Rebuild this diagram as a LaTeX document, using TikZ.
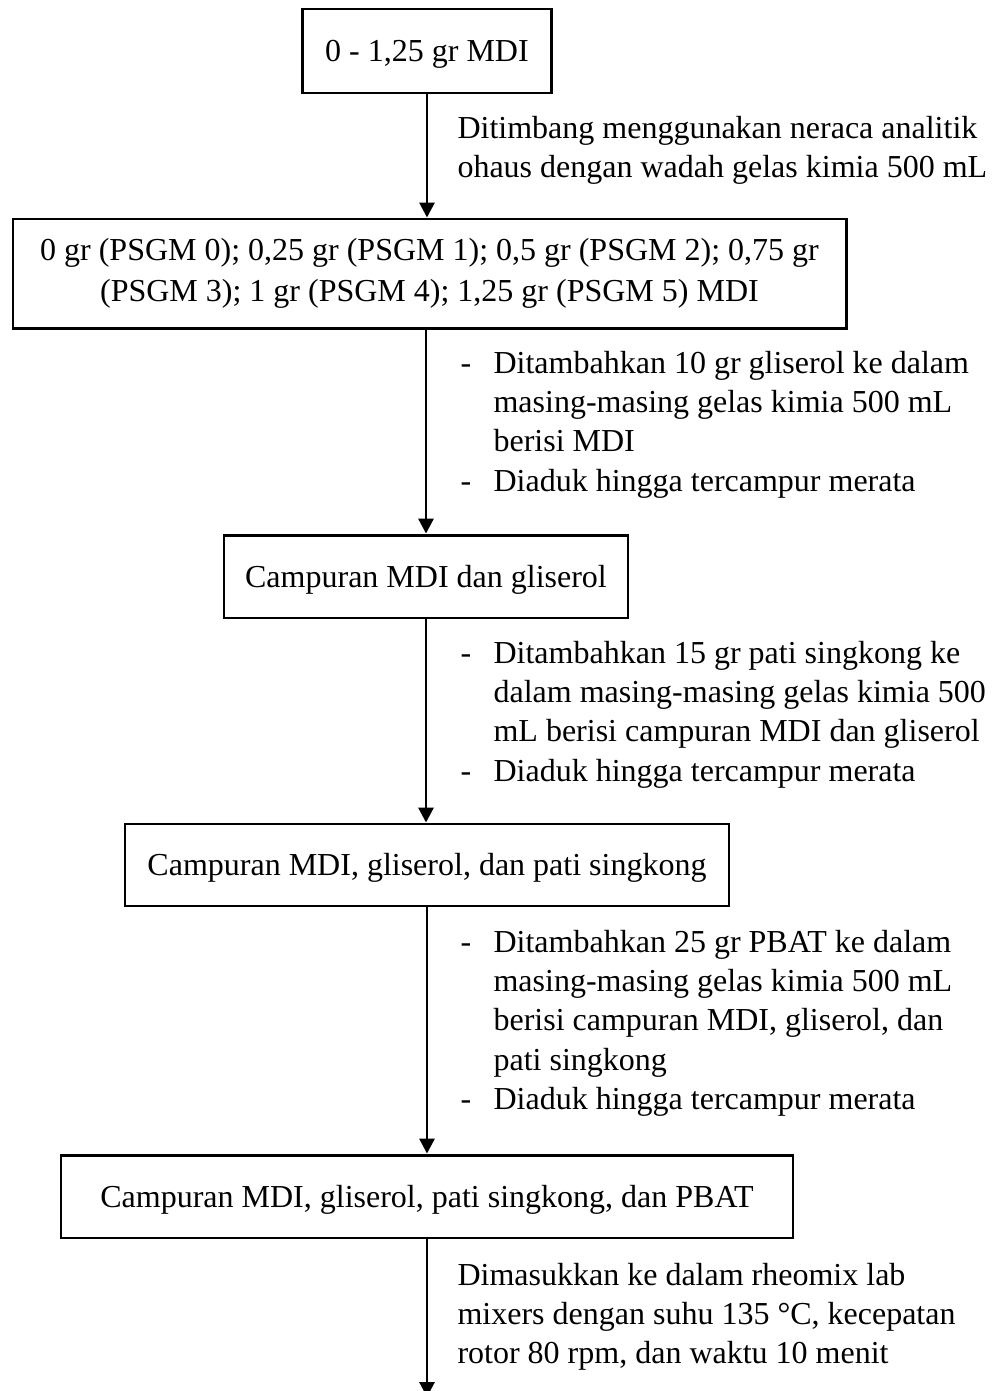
\documentclass[tikz,border=0pt]{standalone}
\usepackage{fontspec}
\setmainfont{Liberation Serif}
\usetikzlibrary{arrows.meta}
\begin{document}
\begin{tikzpicture}[x=0.375pt, y=-0.375pt, box/.style={draw, line width=1.1pt, inner sep=0pt, align=center}, oneline/.style={text height=8.2pt, text depth=0pt}, arr/.style={-{Triangle[length=5.6pt, width=5.6pt]}, line width=1.1pt}, note/.style={inner sep=0pt, anchor=base west}, every node/.style={font=\fontsize{12}{14.8}\selectfont}]
\useasboundingbox (0,0) rectangle (995,1391);
\node[box, oneline, minimum width=93.4pt, minimum height=31.5pt] (mdi) at (427,51) {0 - 1,25 gr MDI};
\node[box, minimum width=312.4pt, minimum height=40.9pt, font=\fontsize{12}{15.4}\selectfont] (psgm) at (429.5,273.5) {0 gr (PSGM 0); 0,25 gr (PSGM 1); 0,5 gr (PSGM 2); 0,75 gr\\(PSGM 3); 1 gr (PSGM 4); 1,25 gr (PSGM 5) MDI};
\node[box, oneline, minimum width=151.5pt, minimum height=31.1pt] (gli) at (426,576.5) {Campuran MDI dan gliserol};
\node[box, oneline, minimum width=226.5pt, minimum height=30.75pt] (pati) at (427,865) {Campuran MDI, gliserol, dan pati singkong};
\node[box, oneline, minimum width=274.5pt, minimum height=31.1pt] (pbat) at (427,1196.5) {Campuran MDI, gliserol, pati singkong, dan PBAT};
\coordinate (out) at (427,1397);
% arrows down the chain
\draw[arr] (mdi.south) -- (mdi.south |- psgm.north);
\draw[arr] (gli.north |- psgm.south) -- (gli.north);
\draw[arr] (gli.south) -- (gli.south |- pati.north);
\draw[arr] (pati.south) -- (pati.south |- pbat.north);
\draw[arr] (pbat.south) -- (out);
% step notes
\node[note] (timbang) at (457,138) {\begin{tabular}[t]{@{}l@{}}Ditimbang menggunakan neraca analitik\\ohaus dengan wadah gelas kimia 500 mL\end{tabular}};
\node[note] (gliserol) at (460,373) {\begin{tabular}[t]{@{}p{12.4pt}@{}l@{}}-&Ditambahkan 10 gr gliserol ke dalam\\&masing-masing gelas kimia 500 mL\\&berisi MDI\\-&Diaduk hingga tercampur merata\end{tabular}};
\node[note] (singkong) at (460,663) {\begin{tabular}[t]{@{}p{12.4pt}@{}l@{}}-&Ditambahkan 15 gr pati singkong ke\\&dalam masing-masing gelas kimia 500\\&mL berisi campuran MDI dan gliserol\\-&Diaduk hingga tercampur merata\end{tabular}};
\node[note] (pbatnote) at (460,952) {\begin{tabular}[t]{@{}p{12.4pt}@{}l@{}}-&Ditambahkan 25 gr PBAT ke dalam\\&masing-masing gelas kimia 500 mL\\&berisi campuran MDI, gliserol, dan\\&pati singkong\\-&Diaduk hingga tercampur merata\end{tabular}};
\node[note] (rheomix) at (457,1285) {\begin{tabular}[t]{@{}l@{}}Dimasukkan ke dalam rheomix lab\\mixers dengan suhu 135 °C, kecepatan\\rotor 80 rpm, dan waktu 10 menit\end{tabular}};
\end{tikzpicture}
\end{document}
